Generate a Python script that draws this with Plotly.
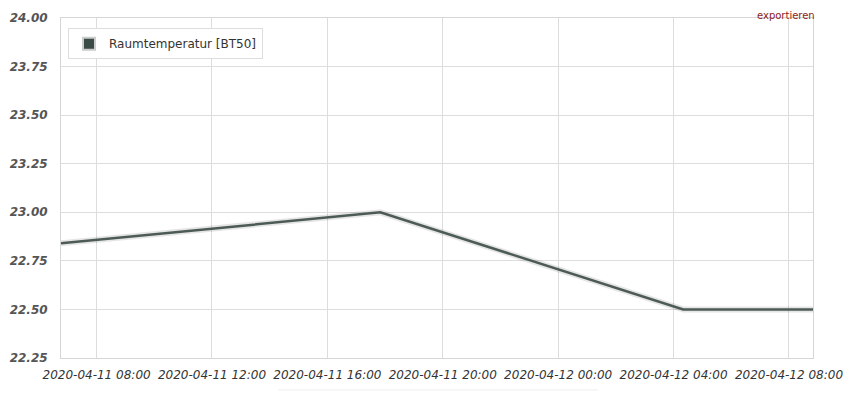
import plotly.graph_objects as go

times = ["2020-04-11 06:46", "2020-04-11 17:50", "2020-04-12 04:20", "2020-04-12 08:50"]
temps = [22.84, 23.00, 22.50, 22.50]
series_name = "Raumtemperatur [BT50]"
y_ticks = [22.25, 22.50, 22.75, 23.00, 23.25, 23.50, 23.75, 24.00]

line_color = "#4d5b56"

fig = go.Figure()
# shadow
fig.add_trace(go.Scatter(x=times, y=temps, mode="lines",
                         line=dict(color="rgba(0,0,0,0.10)", width=6),
                         showlegend=False, hoverinfo="skip"))
fig.add_trace(go.Scatter(x=times, y=temps, mode="lines",
                         line=dict(color=line_color, width=2.5),
                         showlegend=False, name=series_name))
# legend entry (square swatch)
fig.add_trace(go.Scatter(x=[None], y=[None], mode="markers", name=series_name,
                         marker=dict(symbol="square", size=15, color="#3b4b46",
                                     line=dict(color="#cccccc", width=1))))

fig.update_layout(
    width=849, height=395,
    margin=dict(l=53, r=44, t=10, b=45, autoexpand=False),
    paper_bgcolor="white", plot_bgcolor="white",
    font=dict(family="DejaVu Sans, Verdana, sans-serif", color="#444"),
    legend=dict(x=0.0093, y=0.97, xanchor="left", yanchor="top",
                bgcolor="white", bordercolor="#dddddd", borderwidth=1,
                font=dict(size=12, color="#333333"),
                itemsizing="constant"),
    xaxis=dict(
        type="date", automargin=False,
        range=["2020-04-11 06:46", "2020-04-12 08:50"],
        tick0="2020-04-11 08:00", dtick=4 * 3600 * 1000,
        tickformat="%Y-%m-%d %H:%M",
        showgrid=True, gridcolor="#dddddd", gridwidth=1,
        showline=True, linecolor="#d6d6d6", mirror=True,
        ticks="outside", ticklen=6, tickcolor="rgba(0,0,0,0)",
        tickfont=dict(size=12, color="#333333", style="italic"),
        zeroline=False,
    ),
    yaxis=dict(
        automargin=False,
        range=[22.25, 24.00],
        tickvals=y_ticks,
        ticktext=[f"{v:.2f}" for v in y_ticks],
        showgrid=True, gridcolor="#dddddd", gridwidth=1,
        showline=True, linecolor="#d6d6d6", mirror=True,
        ticks="outside", ticklen=10, tickcolor="rgba(0,0,0,0)",
        tickfont=dict(size=12, color="#555555", style="italic", weight="bold"),
        zeroline=False,
    ),
    annotations=[dict(text="exportieren", xref="paper", yref="paper",
                      x=0.964, y=1.0294, xanchor="center", yanchor="top",
                      showarrow=False,
                      font=dict(size=10, color="#8b1c1c"))],
    shapes=[dict(type="line", xref="paper", yref="paper",
                 x0=0.289, x1=0.714, y0=-0.094, y1=-0.094,
                 line=dict(color="#eeeeee", width=1))],
)

fig.write_html("out.html")
